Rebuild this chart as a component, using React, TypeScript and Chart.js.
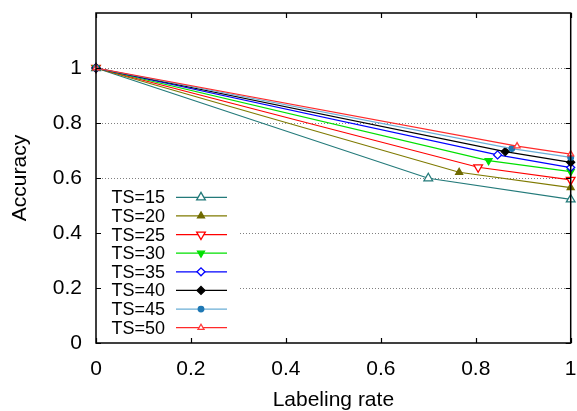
import React, { useEffect, useRef } from 'react';
import { Chart, registerables } from 'chart.js';
import { drawPoint } from 'chart.js/helpers';

Chart.register(...registerables);

// ---- data ----
const seriesLabels = ['TS=15', 'TS=20', 'TS=25', 'TS=30', 'TS=35', 'TS=40', 'TS=45', 'TS=50'];
const xTS15 = [0, 0.700, 1];
const yTS15 = [1, 0.599, 0.522];
const xTS20 = [0, 0.765, 1];
const yTS20 = [1, 0.621, 0.565];
const xTS25 = [0, 0.805, 1];
const yTS25 = [1, 0.639, 0.593];
const xTS30 = [0, 0.827, 1];
const yTS30 = [1, 0.663, 0.623];
const xTS35 = [0, 0.846, 1];
const yTS35 = [1, 0.684, 0.638];
const xTS40 = [0, 0.862, 1];
const yTS40 = [1, 0.696, 0.657];
const xTS45 = [0, 0.876, 1];
const yTS45 = [1, 0.707, 0.675];
const xTS50 = [0, 0.887, 1];
const yTS50 = [1, 0.716, 0.687];
const xValues = [xTS15, xTS20, xTS25, xTS30, xTS35, xTS40, xTS45, xTS50];
const yValues = [yTS15, yTS20, yTS25, yTS30, yTS35, yTS40, yTS45, yTS50];

const xTicks = [0, 0.2, 0.4, 0.6, 0.8, 1];
const yTicks = [0, 0.2, 0.4, 0.6, 0.8, 1];
const xTickLabels = ['0', '0.2', '0.4', '0.6', '0.8', '1'];
const yTickLabels = ['0', '0.2', '0.4', '0.6', '0.8', '1'];
const xTitle = 'Labeling rate';
const yTitle = 'Accuracy';

// ---- styles ----
const lineColors = ['#237a7a', '#7f7a00', '#ff0000', '#00e000', '#0000ff', '#000000', '#6aaed6', '#ff2a2a'];
const pointColors = ['#237a7a', '#6f6a00', '#ff0000', '#00e000', '#0000ff', '#000000', '#1f78b4', '#ff3a3a'];
const pointStyles = ['triangle', 'triangle', 'triangle', 'triangle', 'rectRot', 'rectRot', 'circle', 'triangle'];
const pointRotations = [0, 0, 180, 180, 0, 0, 0, 0];
const pointOpen = [true, false, true, false, true, false, false, true];
const pointRadii = [5, 4, 5, 4, 4, 4, 2.8, 3.5];

const FONT = "'Liberation Sans', Arial, Helvetica, sans-serif";

const customPlugin = {
  id: 'gnuplotDecor',
  beforeDatasetsDraw(chart: any) {
    const { ctx, chartArea: a, scales } = chart;
    const y = scales.y;
    ctx.save();
    ctx.strokeStyle = '#808080';
    ctx.lineWidth = 1;
    ctx.setLineDash([1, 2]);
    yTicks.forEach((v) => {
      if (v <= 0) return;
      const py = Math.round(y.getPixelForValue(v)) + 0.5;
      ctx.beginPath();
      ctx.moveTo(a.left, py);
      ctx.lineTo(a.right, py);
      ctx.stroke();
    });
    ctx.setLineDash([]);
    // legend opaque box
    ctx.fillStyle = '#ffffff';
    ctx.fillRect(a.left + 1, a.bottom - 158, 141, 157);
    ctx.restore();
  },
  afterDatasetsDraw(chart: any) {
    const { ctx, chartArea: a, scales } = chart;
    const x = scales.x;
    const y = scales.y;
    ctx.save();
    // frame
    ctx.strokeStyle = '#000';
    ctx.lineWidth = 1.5;
    ctx.strokeRect(a.left, a.top, a.right - a.left, a.bottom - a.top);
    // inside ticks
    ctx.lineWidth = 1.2;
    const tl = 5;
    yTicks.forEach((v) => {
      const py = Math.round(y.getPixelForValue(v)) + 0.5;
      ctx.beginPath();
      ctx.moveTo(a.left, py);
      ctx.lineTo(a.left + tl, py);
      ctx.moveTo(a.right, py);
      ctx.lineTo(a.right - tl, py);
      ctx.stroke();
    });
    xTicks.forEach((v) => {
      const px = Math.round(x.getPixelForValue(v)) + 0.5;
      ctx.beginPath();
      ctx.moveTo(px, a.bottom);
      ctx.lineTo(px, a.bottom - tl);
      ctx.moveTo(px, a.top);
      ctx.lineTo(px, a.top + tl);
      ctx.stroke();
    });
    // legend
    ctx.font = `18px ${FONT}`;
    ctx.textAlign = 'right';
    ctx.textBaseline = 'middle';
    const rowStep = 18.63;
    const firstRow = a.bottom - 145.7;
    chart.data.datasets.forEach((ds: any, i: number) => {
      const ry = firstRow + i * rowStep;
      ctx.fillStyle = '#000';
      ctx.fillText(seriesLabels[i], a.left + 69, ry + 1);
      ctx.strokeStyle = lineColors[i];
      ctx.lineWidth = 1.3;
      ctx.beginPath();
      ctx.moveTo(a.left + 80, ry);
      ctx.lineTo(a.left + 131, ry);
      ctx.stroke();
      ctx.fillStyle = pointOpen[i] ? '#ffffff' : pointColors[i];
      ctx.strokeStyle = pointColors[i];
      drawPoint(ctx, {
        pointStyle: pointStyles[i],
        rotation: pointRotations[i],
        radius: pointRadii[i],
        borderWidth: 1.3,
      } as any, a.left + 105, ry);
    });
    // axis titles
    ctx.fillStyle = '#000';
    ctx.font = `21px ${FONT}`;
    ctx.textAlign = 'center';
    ctx.textBaseline = 'alphabetic';
    ctx.fillText(xTitle, (a.left + a.right) / 2, 406);
    ctx.translate(26, 178);
    ctx.rotate(-Math.PI / 2);
    ctx.fillText(yTitle, 0, 0);
    ctx.restore();
  },
};

export default function App() {
  const canvasRef = useRef<HTMLCanvasElement | null>(null);

  useEffect(() => {
    document.body.style.margin = '0';
    const canvas = canvasRef.current;
    if (!canvas) return;
    Chart.defaults.font.family = FONT;
    const datasets = seriesLabels.map((label, i) => ({
      label,
      data: xValues[i].map((xv, j) => ({ x: xv, y: yValues[i][j] })),
      borderColor: lineColors[i],
      backgroundColor: pointOpen[i] ? '#ffffff' : pointColors[i],
      pointBorderColor: pointColors[i],
      pointBackgroundColor: pointOpen[i] ? '#ffffff' : pointColors[i],
      pointStyle: pointStyles[i],
      pointRotation: pointRotations[i],
      pointRadius: pointRadii[i],
      pointBorderWidth: 1.3,
      borderWidth: 1.2,
      showLine: true,
      fill: false,
      clip: false as any,
      order: seriesLabels.length - i,
    }));
    const chart = new Chart(canvas, {
      type: 'scatter',
      data: { datasets },
      plugins: [customPlugin],
      options: {
        animation: false,
        responsive: false,
        maintainAspectRatio: false,
        devicePixelRatio: 1,
        layout: { padding: { top: 13, right: 6, left: 0, bottom: 0 } },
        plugins: { legend: { display: false }, tooltip: { enabled: false } },
        scales: {
          x: {
            type: 'linear',
            min: 0,
            max: 1,
            grid: { display: false, drawTicks: false },
            border: { display: false },
            afterBuildTicks: (s: any) => {
              s.ticks = xTicks.map((v) => ({ value: v }));
            },
            afterFit: (s: any) => {
              s.height = 68;
              s.paddingLeft = 0;
              s.paddingRight = 0;
              s.paddingTop = 0;
              s.paddingBottom = 0;
            },
            ticks: {
              padding: 14,
              color: '#000',
              font: { size: 21, family: FONT },
              maxRotation: 0,
              autoSkip: false,
              callback: (v: any) => {
                const k = xTicks.findIndex((t) => Math.abs(t - Number(v)) < 1e-9);
                return k >= 0 ? xTickLabels[k] : '';
              },
            },
          },
          y: {
            type: 'linear',
            min: 0,
            max: 1.2,
            grid: { display: false, drawTicks: false },
            border: { display: false },
            afterBuildTicks: (s: any) => {
              s.ticks = yTicks.map((v) => ({ value: v }));
            },
            afterFit: (s: any) => {
              s.width = 96;
              s.paddingLeft = 0;
              s.paddingRight = 0;
              s.paddingTop = 0;
              s.paddingBottom = 0;
            },
            ticks: {
              padding: 14,
              color: '#000',
              font: { size: 21, family: FONT },
              autoSkip: false,
              callback: (v: any) => {
                const k = yTicks.findIndex((t) => Math.abs(t - Number(v)) < 1e-9);
                return k >= 0 ? yTickLabels[k] : '';
              },
            },
          },
        },
      },
    });
    return () => chart.destroy();
  }, []);

  return <canvas ref={canvasRef} width={577} height={411} style={{ display: 'block' }} />;
}
